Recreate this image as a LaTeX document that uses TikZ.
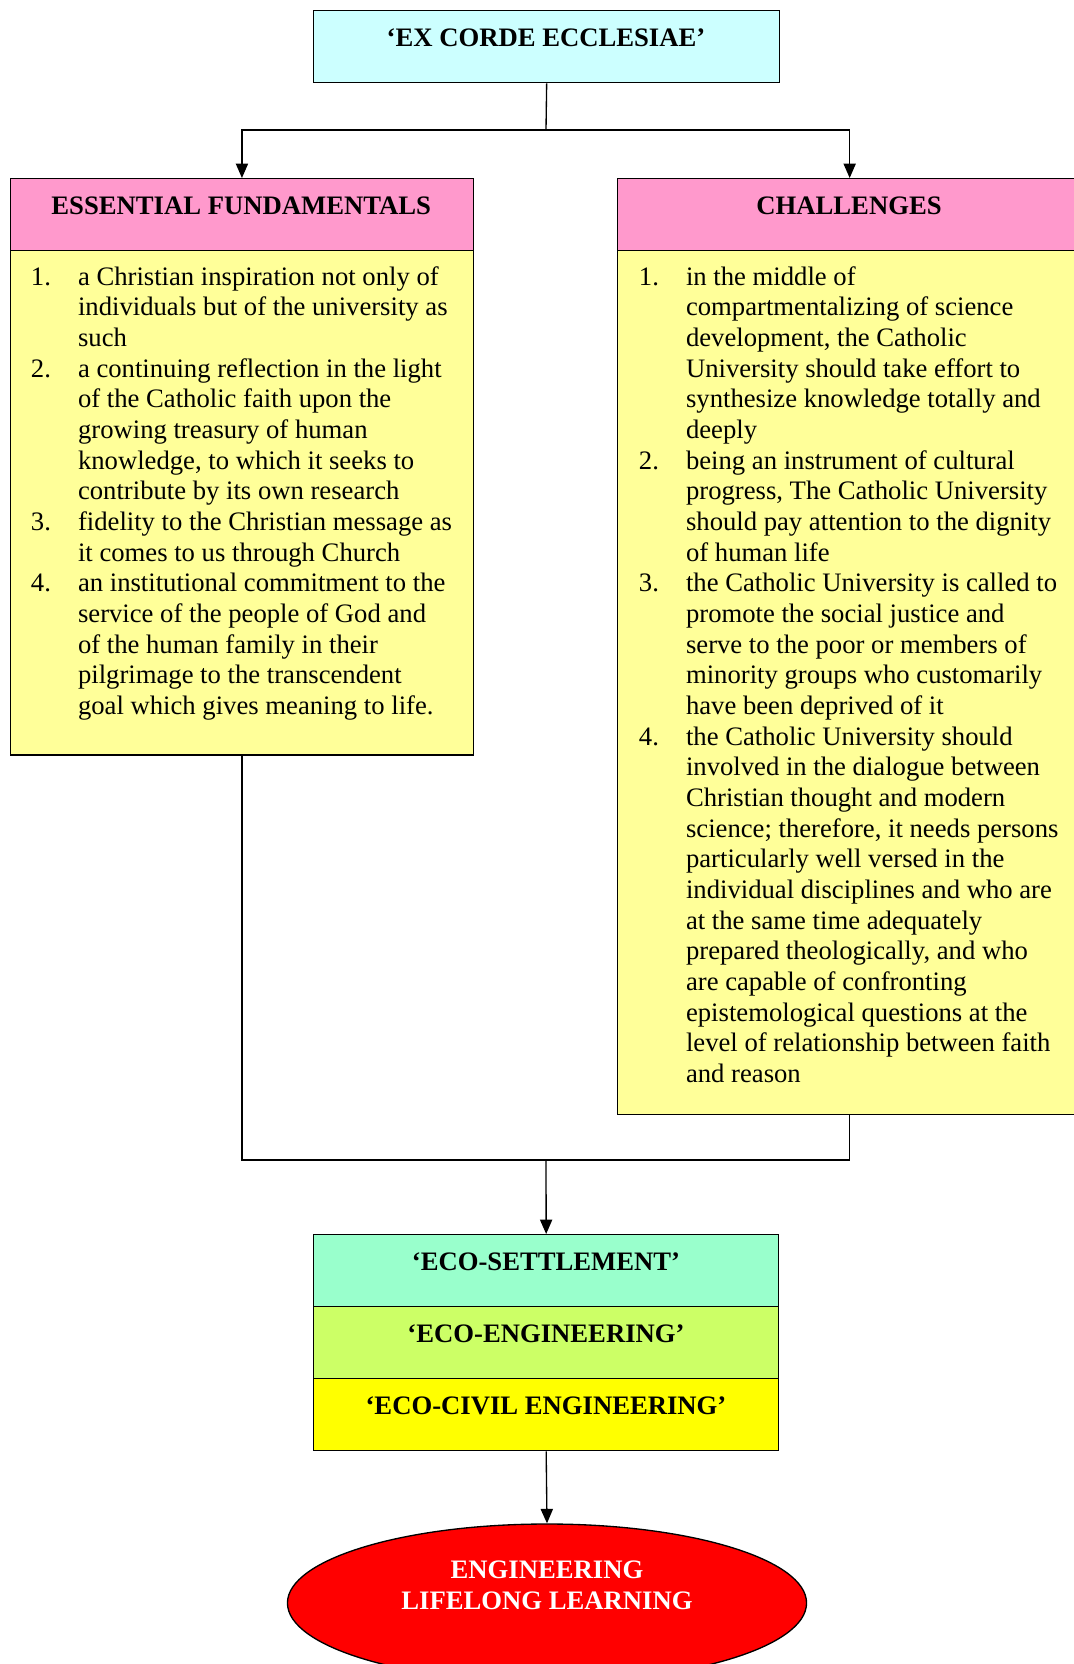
\documentclass[tikz,border=0pt]{standalone}
\usepackage{fontspec}
\setmainfont{Liberation Serif}
\usetikzlibrary{arrows.meta,shapes.geometric}
\definecolor{cyanbox}{HTML}{CCFFFF}
\definecolor{pinkbox}{HTML}{FF99CC}
\definecolor{yellowbox}{HTML}{FFFF99}
\definecolor{ecoA}{HTML}{99FFCC}
\definecolor{ecoB}{HTML}{CCFF66}
\definecolor{ecoC}{HTML}{FFFF00}
\begin{document}
\begin{tikzpicture}[x=0.45pt,y=-0.45pt,
  box/.style={draw=black,line width=0.6pt,inner sep=0pt,anchor=north west},
  title/.style={anchor=base,font=\fontsize{12}{13.8}\selectfont\bfseries},
  lst/.style={anchor=base west,inner sep=0pt,font=\fontsize{12}{13.8}\selectfont},
  conn/.style={line width=0.6pt},
  arr/.style={line width=0.6pt,-{Triangle[length=6.5pt,width=5.5pt]}}]
\useasboundingbox (0,0) rectangle (1074,1664);
\clip (0,0) rectangle (1074,1664);
% top box
\node[box,fill=cyanbox,minimum width=209.7pt,minimum height=32.4pt] (top) at (313,10) {};
\node[title] (toptxt) at (546,46) {‘EX CORDE ECCLESIAE’};
% left column
\node[box,fill=pinkbox,minimum width=208.6pt,minimum height=32.4pt] (lh) at (9.5,178) {};
\node[title] (lhtxt) at (241.25,214) {ESSENTIAL FUNDAMENTALS};
\node[box,fill=yellowbox,minimum width=208.6pt,minimum height=227pt] (lb) at (9.5,250) {};
\node[lst] (llist) at (30.5,285) {\begin{tabular}[t]{@{}p{21.2pt}@{}l@{}}
1. & a Christian inspiration not only of\\
   & individuals but of the university as\\
   & such\\
2. & a continuing reflection in the light\\
   & of the Catholic faith upon the\\
   & growing treasury of human\\
   & knowledge, to which it seeks to\\
   & contribute by its own research\\
3. & fidelity to the Christian message as\\
   & it comes to us through Church\\
4. & an institutional commitment to the\\
   & service of the people of God and\\
   & of the human family in their\\
   & pilgrimage to the transcendent\\
   & goal which gives meaning to life.
\end{tabular}};
% right column
\node[box,fill=pinkbox,minimum width=208.8pt,minimum height=32.4pt] (rh) at (617,178) {};
\node[title] (rhtxt) at (849,214) {CHALLENGES};
\node[box,fill=yellowbox,minimum width=208.8pt,minimum height=388.8pt] (rb) at (617,250) {};
\node[lst] (rlist) at (638.5,285) {\begin{tabular}[t]{@{}p{21.2pt}@{}l@{}}
1. & in the middle of\\
   & compartmentalizing of science\\
   & development, the Catholic\\
   & University should take effort to\\
   & synthesize knowledge totally and\\
   & deeply\\
2. & being an instrument of cultural\\
   & progress, The Catholic University\\
   & should pay attention to the dignity\\
   & of human life\\
3. & the Catholic University is called to\\
   & promote the social justice and\\
   & serve to the poor or members of\\
   & minority groups who customarily\\
   & have been deprived of it\\
4. & the Catholic University should\\
   & involved in the dialogue between\\
   & Christian thought and modern\\
   & science; therefore, it needs persons\\
   & particularly well versed in the\\
   & individual disciplines and who are\\
   & at the same time adequately\\
   & prepared theologically, and who\\
   & are capable of confronting\\
   & epistemological questions at the\\
   & level of relationship between faith\\
   & and reason
\end{tabular}};
% eco boxes
\node[box,fill=ecoA,minimum width=209.25pt,minimum height=32.4pt] (e1) at (313,1234) {};
\node[title] (e1txt) at (546,1270) {‘ECO-SETTLEMENT’};
\node[box,fill=ecoB,minimum width=209.25pt,minimum height=32.4pt] (e2) at (313,1306) {};
\node[title] (e2txt) at (546,1342) {‘ECO-ENGINEERING’};
\node[box,fill=ecoC,minimum width=209.25pt,minimum height=32.4pt] (e3) at (313,1378) {};
\node[title] (e3txt) at (546,1414) {‘ECO-CIVIL ENGINEERING’};
% ellipse
\node[ellipse,draw=black,line width=0.6pt,fill=red,inner sep=0pt,minimum width=233.6pt,minimum height=71.1pt] (ell) at (547,1603) {};
\node[anchor=base,font=\fontsize{12}{13.8}\selectfont\bfseries,text=white,align=center] (elltxt) at (547,1609) {ENGINEERING\\LIFELONG LEARNING};
% connectors
\coordinate (j1) at (546,130);
\coordinate (j2) at (546,1160);
\draw[conn] (top.south) -- (j1);
\draw[arr] (j1) -| (lh.north);
\draw[arr] (j1) -| (rh.north);
\draw[conn] (lb.south) |- (j2);
\draw[conn] (rb.south) |- (j2);
\draw[arr] (j2) -- (e1.north);
\draw[arr] (e3.south) -- (ell.north);
\end{tikzpicture}
\end{document}
